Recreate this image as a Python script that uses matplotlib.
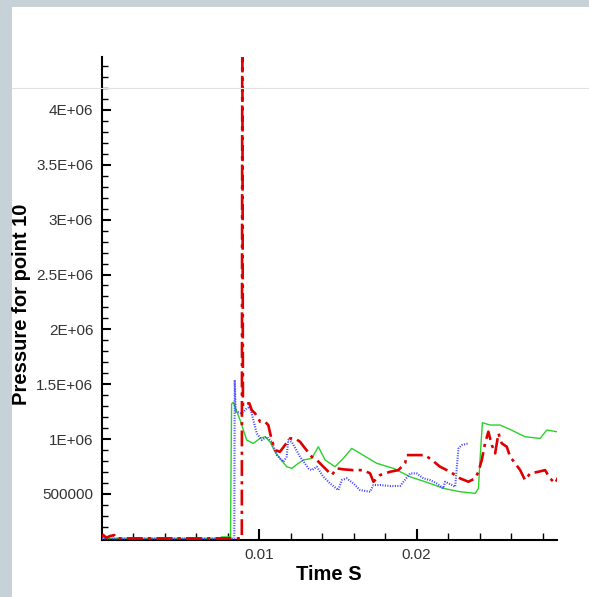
import matplotlib
matplotlib.use("Agg")
import matplotlib.pyplot as plt
from matplotlib.ticker import FixedLocator, MultipleLocator
from matplotlib.patches import Rectangle
from matplotlib.lines import Line2D

plt.rcParams['font.family'] = ['Liberation Sans', 'DejaVu Sans']

# ---------------- data ----------------
green_t = [0.0, 0.0075, 0.0076, 0.0080, 0.00818, 0.00825, 0.00836, 0.00879, 0.00921, 0.00963,
           0.01005, 0.01037, 0.01069, 0.01101, 0.01132, 0.01175, 0.01207, 0.01249, 0.01281,
           0.01334, 0.01376, 0.01419, 0.01482, 0.01535, 0.01588, 0.01641, 0.01747, 0.01853,
           0.01959, 0.02022, 0.02086, 0.02170, 0.02276, 0.02372, 0.02393, 0.02403, 0.02418,
           0.02467, 0.02530, 0.02594, 0.02689, 0.02785, 0.02827, 0.02891]
green_p = [95000, 95000, 108000, 108000, 110000, 1320000, 1335000, 1173000, 991000, 961000,
           1006000, 1021000, 975000, 884000, 824000, 748000, 733000, 779000, 809000,
           824000, 930000, 809000, 748000, 824000, 915000, 870000, 779000, 733000,
           656000, 626000, 596000, 551000, 520000, 505000, 551000, 809000, 1149000,
           1128000, 1128000, 1088000, 1021000, 1006000, 1082000, 1067000]

blue_t = [0.0, 0.00842, 0.00845, 0.00851, 0.00858, 0.00889, 0.00921, 0.00942, 0.00963,
          0.00985, 0.01017, 0.01048, 0.01080, 0.01112, 0.01154, 0.01175, 0.01185, 0.01207,
          0.01260, 0.01313, 0.01334, 0.01366, 0.01408, 0.01450, 0.01503, 0.01525, 0.01557,
          0.01598, 0.01641, 0.01705, 0.01726, 0.01768, 0.01832, 0.01895, 0.01959, 0.02001,
          0.02043, 0.02086, 0.02128, 0.02170, 0.02181, 0.02224, 0.02245, 0.02266, 0.02287,
          0.02329]
blue_p = [92000, 92000, 1538000, 1250000, 1249000, 1234000, 1280000, 1294000, 1173000,
          1052000, 991000, 1021000, 975000, 854000, 793000, 839000, 991000, 975000,
          839000, 733000, 717000, 748000, 656000, 596000, 535000, 626000, 642000,
          596000, 535000, 520000, 581000, 581000, 572000, 572000, 687000, 687000,
          642000, 626000, 596000, 551000, 611000, 581000, 565000, 915000, 945000,
          961000]

red_t = [0.0, 0.0001, 0.0003, 0.0005, 0.0008, 0.0009, 0.0011, 0.0089, 0.00893, 0.00897,
         0.00921, 0.00938, 0.00953, 0.00974, 0.00995, 0.01006, 0.01037, 0.01058, 0.01080,
         0.01101, 0.01132, 0.01164, 0.01196, 0.01228, 0.01260, 0.01292, 0.01334, 0.01366,
         0.01408, 0.01461, 0.01493, 0.01535, 0.01598, 0.01662, 0.01705, 0.01726, 0.01768,
         0.01832, 0.01884, 0.01927, 0.01938, 0.02001, 0.02054, 0.02097, 0.02149, 0.02213,
         0.02276, 0.02329, 0.02372, 0.02393, 0.02414, 0.02435, 0.02456, 0.02478, 0.02499,
         0.02520, 0.02541, 0.02573, 0.02594, 0.02626, 0.02658, 0.02689, 0.02721, 0.02774,
         0.02816, 0.02848, 0.02880, 0.02901]
red_p = [110000, 125000, 100000, 115000, 125000, 95000, 95000, 95000, 5000000, 1300000,
         1325000, 1325000, 1264000, 1234000, 1189000, 1158000, 1158000, 1128000, 991000,
         900000, 884000, 945000, 1006000, 1006000, 975000, 915000, 839000, 809000,
         748000, 672000, 733000, 724000, 717000, 717000, 687000, 611000, 672000,
         702000, 717000, 779000, 854000, 854000, 854000, 809000, 748000, 702000,
         642000, 611000, 642000, 702000, 809000, 961000, 1067000, 945000, 870000,
         1052000, 961000, 930000, 839000, 779000, 717000, 626000, 687000, 702000,
         717000, 642000, 596000, 656000]

y_ticks = [500000, 1000000, 1500000, 2000000, 2500000, 3000000, 3500000, 4000000]
y_tick_labels = ["500000", "1E+06", "1.5E+06", "2E+06", "2.5E+06", "3E+06", "3.5E+06", "4E+06"]
x_ticks = [0.01, 0.02]
x_tick_labels = ["0.01", "0.02"]

# ---------------- figure ----------------
W, H = 589, 597
fig = plt.figure(figsize=(W / 100, H / 100), dpi=100)
fig.patch.set_facecolor('white')

border = '#c6d1d8'
fig.patches.append(Rectangle((0, 0), 12 / W, 1, transform=fig.transFigure,
                             facecolor=border, edgecolor='none', zorder=0))
fig.patches.append(Rectangle((0, 1 - 7 / H), 1, 7 / H, transform=fig.transFigure,
                             facecolor=border, edgecolor='none', zorder=0))
fig.lines.append(Line2D([12 / W, 1], [1 - 87.5 / H, 1 - 87.5 / H], transform=fig.transFigure,
                        color='#e2e2e2', lw=0.8, zorder=0))

left, right = 101.7 / W, 556.7 / W
bottom, top = 1 - 540 / H, 1 - 57.3 / H
ax = fig.add_axes([left, bottom, right - left, top - bottom])
ax.patch.set_alpha(0)

ax.plot(green_t, green_p, color='#2ad12a', lw=1.0, zorder=3)
ax.plot(blue_t, blue_p, color='#4040ff', lw=1.5, linestyle=(0, (0.5, 0.7)), zorder=4)
ax.plot(red_t, red_p, color='#dd0000', lw=1.9, linestyle=(0, (6, 2, 1.2, 2)), zorder=5)

ax.set_xlim(0, 0.0289)
ax.set_ylim(80000, 4480000)

for s in ['top', 'right']:
    ax.spines[s].set_visible(False)
for s in ['left', 'bottom']:
    ax.spines[s].set_linewidth(1.5)
    ax.spines[s].set_color('black')

ax.xaxis.set_major_locator(FixedLocator(x_ticks))
ax.set_xticklabels(x_tick_labels)
ax.xaxis.set_minor_locator(MultipleLocator(0.002))
ax.yaxis.set_major_locator(FixedLocator(y_ticks))
ax.set_yticklabels(y_tick_labels)
ax.yaxis.set_minor_locator(MultipleLocator(100000))

ax.tick_params(axis='x', which='major', direction='in', length=8, width=1.5, pad=6,
               labelsize=11, labelcolor='#333333')
ax.tick_params(axis='x', which='minor', direction='in', length=5, width=1.0)
ax.tick_params(axis='y', which='major', direction='in', length=6.5, width=1.5, pad=6,
               labelsize=11, labelcolor='#333333')
ax.tick_params(axis='y', which='minor', direction='in', length=4.3, width=1.0)

fig.text(329 / W, 1 - 575 / H, "Time S", ha='center', va='center',
         fontsize=14.5, fontweight='bold', color='black')
fig.text(22 / W, 1 - 304 / H, "Pressure for point 10", ha='center', va='center',
         rotation=90, fontsize=14.5, fontweight='bold', color='black')

fig.savefig('out.png', dpi=100)
